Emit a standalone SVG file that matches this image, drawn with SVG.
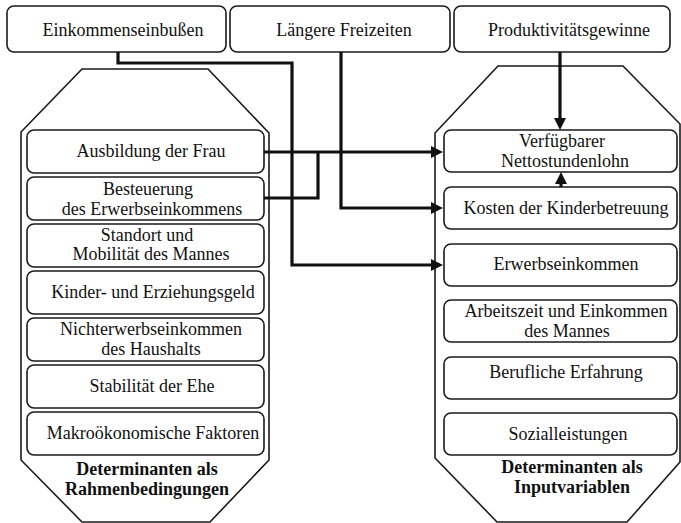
<svg xmlns="http://www.w3.org/2000/svg" width="681" height="523" viewBox="0 0 681 523">
<style>
.box{fill:#fff;stroke:#1a1a1a;stroke-width:1.6}
.oct{fill:#fff;stroke:#1a1a1a;stroke-width:1.6}
.t{font-family:"Liberation Serif","Times New Roman",serif;font-size:18px;fill:#111;text-anchor:middle}
.b{font-weight:bold}
.c{fill:none;stroke:#111;stroke-width:3.2}
</style>
<defs>
<marker id="ah" markerUnits="userSpaceOnUse" markerWidth="14" markerHeight="12" refX="4" refY="6" orient="auto">
<path d="M0,0 L12,6 L0,12 z" fill="#111"/>
</marker>
</defs>
<rect width="681" height="523" fill="#fff"/>

<g id="rahmen-group">
<path class="oct" d="M82,69 L208,69 L269,133 L269,460 L210,522 L82,522 L21,460 L21,132 Z"/>
<text class="t b" x="147" y="475">Determinanten als</text>
<text class="t b" x="147" y="495">Rahmenbedingungen</text>
</g>
<g id="input-group">
<path class="oct" d="M498,66 L623,66 L680,124 L680,462 L627,522 L497,522 L435,458 L435,133 Z"/>
<text class="t b" x="572" y="473">Determinanten als</text>
<text class="t b" x="572" y="493">Inputvariablen</text>
</g>

<g id="einkommenseinbussen"><rect class="box" x="7" y="6" width="219" height="46" rx="7"/><text class="t" x="123" y="36">Einkommenseinbußen</text></g>
<g id="laengere-freizeiten"><rect class="box" x="230" y="6" width="220" height="46" rx="7"/><text class="t" x="344" y="36">Längere Freizeiten</text></g>
<g id="produktivitaetsgewinne"><rect class="box" x="454" y="6" width="216" height="46" rx="7"/><text class="t" x="569" y="36">Produktivitätsgewinne</text></g>

<g id="ausbildung"><rect class="box" x="27" y="130" width="237" height="43" rx="7"/><text class="t" x="151" y="157">Ausbildung der Frau</text></g>
<g id="besteuerung"><rect class="box" x="27" y="177" width="237" height="43" rx="7"/><text class="t" x="148" y="195">Besteuerung</text><text class="t" x="152" y="215">des Erwerbseinkommens</text></g>
<g id="standort"><rect class="box" x="27" y="224" width="237" height="43" rx="7"/><text class="t" x="147" y="241">Standort und</text><text class="t" x="151" y="260">Mobilität des Mannes</text></g>
<g id="kindergeld"><rect class="box" x="27" y="271" width="237" height="43" rx="7"/><text class="t" x="153" y="298">Kinder- und Erziehungsgeld</text></g>
<g id="nichterwerb"><rect class="box" x="27" y="318" width="237" height="43" rx="7"/><text class="t" x="151" y="335">Nichterwerbseinkommen</text><text class="t" x="151" y="355">des Haushalts</text></g>
<g id="stabilitaet"><rect class="box" x="27" y="365" width="237" height="43" rx="7"/><text class="t" x="152" y="392">Stabilität der Ehe</text></g>
<g id="makro"><rect class="box" x="27" y="412" width="237" height="43" rx="7"/><text class="t" x="153" y="439">Makroökonomische Faktoren</text></g>

<g id="nettolohn"><rect class="box" x="444" y="130" width="233" height="42" rx="7"/><text class="t" x="562" y="147">Verfügbarer</text><text class="t" x="565" y="167">Nettostundenlohn</text></g>
<g id="kinderbetreuung"><rect class="box" x="444" y="187" width="233" height="42" rx="7"/><text class="t" x="566" y="214">Kosten der Kinderbetreuung</text></g>
<g id="erwerbseinkommen"><rect class="box" x="444" y="244" width="233" height="42" rx="7"/><text class="t" x="566" y="270">Erwerbseinkommen</text></g>
<g id="arbeitszeit"><rect class="box" x="444" y="300" width="233" height="42" rx="7"/><text class="t" x="566" y="317">Arbeitszeit und Einkommen</text><text class="t" x="567" y="337">des Mannes</text></g>
<g id="erfahrung"><rect class="box" x="444" y="357" width="233" height="42" rx="7"/><text class="t" x="566" y="378">Berufliche Erfahrung</text></g>
<g id="sozialleistungen"><rect class="box" x="444" y="413" width="233" height="42" rx="7"/><text class="t" x="568" y="440">Sozialleistungen</text></g>

<g id="connectors">
<path class="c" d="M118,52 V63 H292 V265 H435" marker-end="url(#ah)"/>
<path class="c" d="M341,52 V208 H435" marker-end="url(#ah)"/>
<path class="c" d="M560,52 V122" marker-end="url(#ah)"/>
<path class="c" d="M264,152 H435" marker-end="url(#ah)"/>
<path class="c" d="M264,198 H318 V152"/>
<path class="c" d="M561,187 V180" marker-end="url(#ah)"/>
</g>
</svg>
